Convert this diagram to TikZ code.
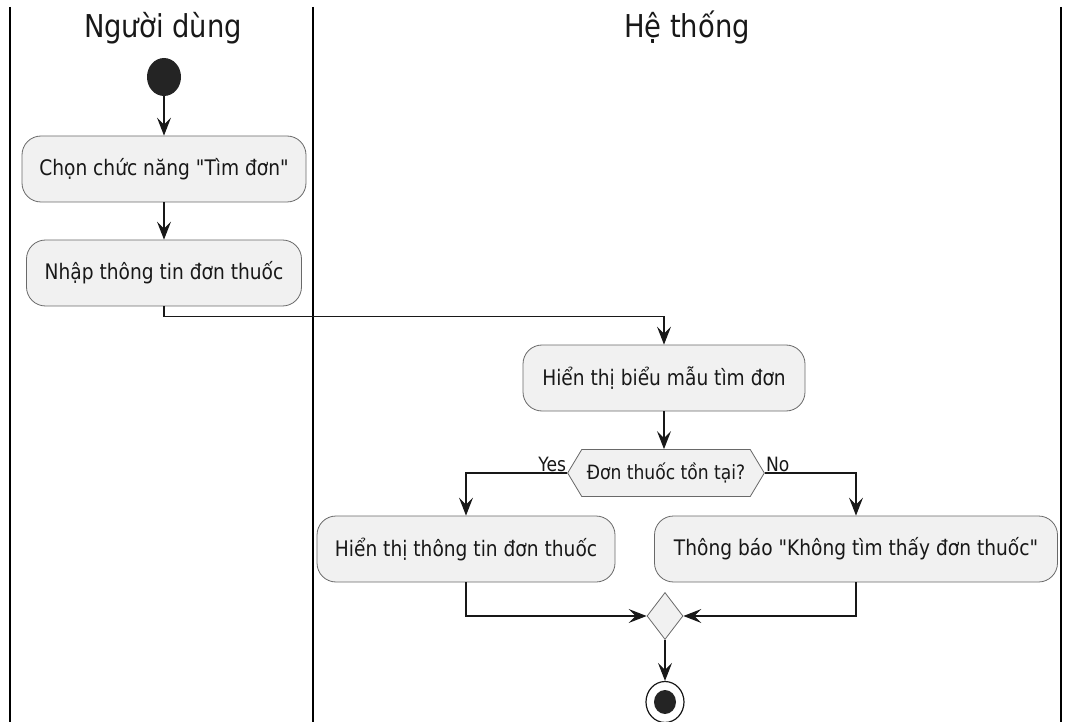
\documentclass[tikz,border=0pt]{standalone}
\usepackage{fontspec}
\setmainfont{DejaVu Sans}
\newfontfamily\umlfont[FakeStretch=0.87, Ligatures=TeXOff]{DejaVu Sans}
\usetikzlibrary{arrows.meta,shapes.geometric,shapes.symbols}
\definecolor{actfill}{HTML}{F1F1F1}
\definecolor{actline}{HTML}{181818}

\begin{document}
\begin{tikzpicture}[x=1pt, y=-1pt,
  lane/.style={line width=1.8pt, black},
  title/.style={font=\umlfont\fontsize{31.5}{36}\selectfont, text=actline, anchor=base},
  action/.style={draw=actline!65, line width=0.8pt, rounded corners=19pt, fill=actfill, minimum height=66pt, inner xsep=10pt, align=center, font=\umlfont\fontsize{21.4}{25}\selectfont, text=actline},
  cond/.style={signal, signal to=west and east, signal pointer angle=118, draw=actline!65, line width=0.8pt, fill=actfill, minimum height=47pt, inner xsep=5pt, font=\umlfont\fontsize{19.7}{23}\selectfont, text=actline},
  merge/.style={diamond, draw=actline!65, line width=0.8pt, fill=actfill, minimum width=36pt, minimum height=47pt, inner sep=0pt, aspect=0.77},
  lbl/.style={font=\umlfont\fontsize{19.7}{23}\selectfont, text=actline, inner sep=1pt},
  arrow/.style={-{Stealth[length=18pt, width=14pt, inset=7pt]}, line width=1.1pt, actline}
]
  \useasboundingbox (0,0) rectangle (1069,722);

  % Swimlanes
  \draw[lane] (10,7) -- (10,722);
  \draw[lane] (313,7) -- (313,722);
  \draw[lane] (1061,7) -- (1061,722);
  \node[title] (user) at (163,38) {Người dùng};
  \node[title] (sys) at (687,38) {Hệ thống};

  % User lane
  \node[ellipse, fill=actline!95, minimum width=34pt, minimum height=38pt, inner sep=0pt] (start) at (164,77) {};
  \node[action, minimum width=284pt] (chon) at (164,169) {Chọn chức năng "Tìm đơn"};
  \node[action, minimum width=275pt] (nhap) at (164,273) {Nhập thông tin đơn thuốc};

  % System lane
  \node[action, minimum width=282pt] (bieumau) at (664,378) {Hiển thị biểu mẫu tìm đơn};
  \node[cond] (tontai) at (666,473) {Đơn thuốc tồn tại?};
  \node[action, minimum width=298pt] (hienthi) at (466,549) {Hiển thị thông tin đơn thuốc};
  \node[action, minimum width=403pt] (thongbao) at (856,549) {Thông báo "Không tìm thấy đơn thuốc"};
  \node[merge] (gop) at (665,616) {};
  \node[ellipse, draw=actline, line width=1.2pt, fill=white, minimum width=38pt, minimum height=41pt, inner sep=0pt] (end) at (665,702) {};
  \node[ellipse, fill=actline!95, minimum width=22pt, minimum height=24pt, inner sep=0pt] at (end) {};

  % Labels
  \node[lbl, anchor=south east] (yes) at (tontai.west) {Yes};
  \node[lbl, anchor=south west] (no) at (tontai.east) {No};

  % Arrows
  \draw[arrow] (start) -- (chon);
  \draw[arrow] (chon) -- (nhap);
  \draw[arrow] (nhap.south) -- ++(0,10) -| (bieumau.north);
  \draw[arrow] (bieumau.south) -- (tontai.north -| bieumau.south);
  \draw[arrow] (tontai.west) -| (hienthi.north);
  \draw[arrow] (tontai.east) -| (thongbao.north);
  \draw[arrow] (hienthi.south) |- (gop.west);
  \draw[arrow] (thongbao.south) |- (gop.east);
  \draw[arrow] (gop.south) -- (end.north);
\end{tikzpicture}
\end{document}
